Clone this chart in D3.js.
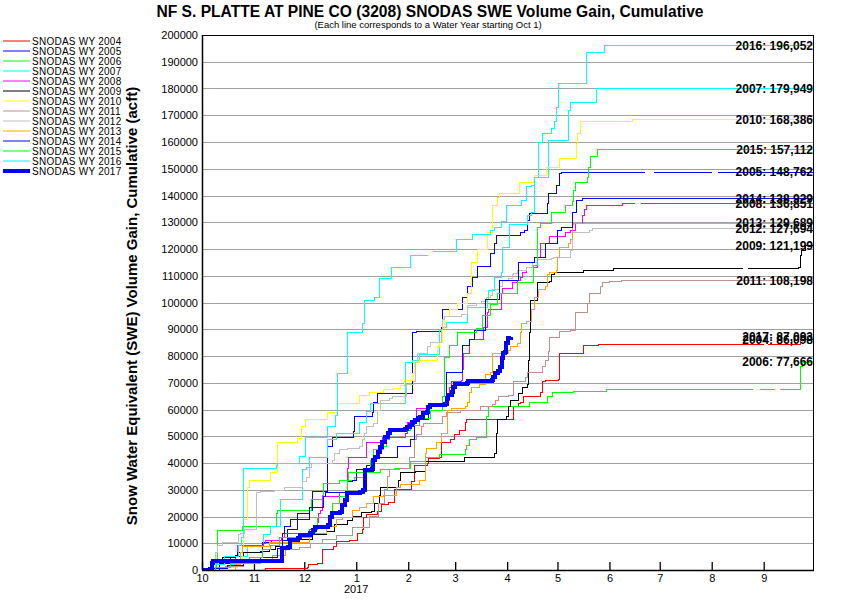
<!DOCTYPE html>
<html><head><meta charset="utf-8">
<script src="https://cdn.jsdelivr.net/npm/d3@7"></script>
<style>body{margin:0;background:#fff}svg{display:block}text{font-family:"Liberation Sans",Arial,sans-serif}</style>
</head><body><svg id="c" width="850" height="600"></svg>
<script>
// ---- data: [day of water year (0 = Oct 1), cumulative SWE volume gain (acft)]; null = missing ----
const years = [2004,2005,2006,2007,2008,2009,2010,2011,2012,2013,2014,2015,2016,2017];
const monthTicks = [0,31,61,92,123,151,182,212,243,273,304,335];
const monthLabels = ["10","11","12","1","2","3","4","5","6","7","8","9"];
const yTicks = d3.range(0, 200001, 10000);

const wy2004 = [[0,0],[38,400],[63,750],[63.4,1900],[68.6,2600],[71.6,7500],[78.7,8600],[80.5,10500],[87.7,11200],[93,13800],[96,15000],[96.6,19800],[98.4,20600],[104.4,21700],[107,24300],[111,25400],[115,30000],[125,32900],[127,39200],[134.2,40000],[134.8,41500],[141.9,41900],[143.1,47500],[148.5,48600],[150.3,50500],[153.3,52300],[156.9,55300],[158,56100],[185.5,61000],[188.5,62400],[189.7,62800],[192,64700],[202,66200],[203.3,70300],[204.6,71000],[212.9,71300],[213.5,81100],[227.8,83800],[235.6,84100],[236.2,84400],[335.2,84400],[335.3,null],[337.6,84400],[357.2,86000],[357.8,86098]];
const wy2005 = [[0,0],[7.8,1100],[10.7,2600],[16.7,4900],[24.5,6700],[35.8,10100],[41.7,11200],[50.7,15000],[56.7,21300],[64.4,22400],[66.2,29200],[75.1,46000],[78.1,49700],[90.1,51600],[91.2,57200],[101.4,58700],[102,62800],[104.4,65800],[125.8,88600],[128.2,89000],[143.1,90800],[143.7,97200],[155.1,102000],[158.6,105800],[161.6,109500],[164.6,113300],[171.8,118500],[174.7,122200],[175.9,125200],[189.7,126300],[192.6,127100],[194.4,130800],[195.6,133400],[205.8,137100],[206.4,140900],[211.7,143900],[213.5,148400],[214.7,148762],[264.2,148762],[264.3,null],[269.6,148762],[304.2,148762],[304.3,null],[307.7,148762]];
const wy2006 = [[0,0],[6.6,1000],[8.9,2600],[9.5,14950],[23.9,16100],[44.7,21300],[45.3,22400],[65.6,26200],[71.6,28000],[72.2,32500],[82.3,33600],[91.2,34400],[97.2,36600],[106.2,37400],[115.1,38100],[124.1,40400],[133,41900],[141.9,43000],[156.9,44900],[158,46700],[159.8,48600],[163.9,49700],[169.9,57200],[170.6,61000],[186.7,61300],[195.6,62800],[205.8,64700],[209.3,66200],[221.3,66900],[241.5,67300],[328.6,67300],[328.7,null],[332.8,67300],[341.7,67300],[341.8,null],[344.7,67300],[357,70300],[357.2,75900],[358.3,77666]];
const wy2007 = [[0,0],[7.8,750],[16.7,1900],[22.7,4900],[27.4,9000],[36.4,13100],[40.6,16100],[47.1,26200],[60.2,37400],[62.6,38500],[64.4,42200],[75.1,48600],[80.5,51200],[94.2,55300],[98.4,59100],[100.2,62400],[121.1,77400],[125.3,78500],[130,80400],[141.9,89700],[143.7,90800],[146.1,92700],[158.6,98300],[170,101000],[170.6,104300],[174.7,109500],[178.9,111400],[179.5,120700],[183.1,129000],[194.4,132700],[196.8,133800],[198.6,146900],[206.4,160700],[218.3,171900],[219.5,174600],[235,179949]];
const wy2008 = [[0,0],[10.7,1100],[19.7,4900],[20.9,9300],[36.4,10000],[37.6,11200],[47.7,12000],[49.5,13800],[64.4,15000],[68.6,17900],[69.2,21300],[70.4,22400],[71.6,27300],[82.3,28800],[86.5,38100],[87.1,41900],[96,42200],[98.4,47500],[107.4,49700],[121.1,51200],[122.3,55000],[128.2,60200],[136,62400],[146.7,63500],[147.9,68400],[149.1,70300],[154.5,71000],[155.1,74800],[155.7,81100],[159.8,86000],[167.6,90800],[170,96400],[170.6,97200],[178.9,103500],[179.5,105400],[184.9,107600],[187.9,108400],[189.7,109500],[191.4,111400],[193.8,112900],[199.8,117000],[201.6,122200],[207.5,124500],[216.5,126000],[219.5,127100],[222.5,129700],[227.2,132700],[228.4,134600],[229.6,136100],[250.5,136851],[258.2,136851],[258.3,null],[261.8,136851]];
const wy2009 = [[0,0],[10.7,2600],[12.5,4500],[19.7,5600],[20.9,6400],[35,6800],[40,7500],[44,8600],[52,10500],[56,11500],[66,13400],[74,14500],[79,17000],[87,18500],[90,20000],[95,21500],[101,22000],[103,25000],[105.6,28000],[106.2,31000],[117,33600],[118.1,36600],[127.6,37000],[133,40400],[155.1,40700],[156.3,42200],[174.7,43400],[175.9,51200],[176.5,56100],[181.9,57200],[182.5,61000],[183.7,63500],[188.5,65800],[191.4,68400],[194.4,69200],[195,78500],[195.6,88600],[196.2,100900],[199.8,107300],[207.5,108000],[208.7,110600],[210.5,111400],[227.8,112100],[245.3,112800],[322.6,112800],[322.7,null],[325.6,112800],[356,113000],[357.2,117700],[357.8,119600],[360,121199]];
const wy2010 = [[0,0],[12,800],[20.9,3700],[24,8600],[24.5,18700],[27.4,31000],[28.6,33600],[40.6,36300],[45.3,47500],[56.7,49300],[59.6,53500],[62,56100],[75.1,58700],[81.1,62400],[94.2,65400],[99.6,66200],[108,67300],[114,68000],[118.1,68800],[120.5,71000],[125.3,73600],[127,77400],[130,78500],[140.7,83400],[141.9,85200],[143.7,90400],[144.9,94600],[147.9,97200],[152.1,99800],[158.6,103500],[161,115100],[164.6,120000],[170,126000],[173,127100],[173.5,136400],[176,139400],[177.7,140900],[189.1,144700],[198.6,147600],[205.2,150600],[213.5,154000],[223.6,159600],[224.2,163300],[226,167800],[256.5,168386]];
const wy2011 = [[0,0],[8,700],[14,1400],[25,2500],[35,3500],[42,5500],[50,7500],[58,8500],[65,10000],[72,11500],[80,13000],[90,16000],[100,20000],[105,25000],[109,30000],[110.5,34800],[112,37400],[118,38100],[124,42200],[127,48600],[128,50500],[131,53500],[132,54600],[143.7,57200],[146,58700],[154,59800],[166,61000],[173.5,61700],[175,63500],[177,64700],[183,65400],[185.5,68400],[186,70300],[193,72100],[194,74000],[203,75900],[205,78500],[206.4,81500],[207,87100],[213,89000],[219.5,89700],[223,96100],[230,99800],[231,103200],[237.4,105800],[238.6,107300],[243,107800],[250,108198]];
const wy2012 = [[0,0],[6.6,1100],[7.8,6400],[9,9300],[12.5,10100],[21.5,13100],[22.7,13800],[25.6,15000],[31.6,15300],[32.8,28800],[34.6,29200],[43.5,29900],[49.5,30700],[58.4,31000],[60.2,32900],[62.6,34400],[64.4,38500],[65.6,40000],[78.1,41100],[79.3,43700],[82.3,44900],[86.5,45600],[94.2,46000],[96,48600],[97.2,51200],[98.4,53500],[102,54900],[104.4,59800],[106.2,63500],[112.1,64000],[113.9,64700],[121.7,69200],[126.4,70300],[127.6,77400],[128.8,81100],[134.2,83400],[136,84900],[143.1,90000],[143.7,93500],[144.9,94600],[154.5,95700],[158.6,98700],[164,99800],[166.8,100200],[169.4,102000],[171.8,102800],[173.5,105000],[177.7,105800],[179.5,108400],[182.5,109100],[184.9,110300],[185.5,111000],[187.9,112100],[193.8,112900],[197.4,114800],[199.8,115900],[208.7,116300],[209.9,117000],[219.5,119600],[220.7,126300],[231.4,127100],[232.6,127694]];
const wy2013 = [[0,0],[20,2000],[22.7,6700],[24,8600],[40,10100],[64.4,12000],[65.6,13800],[74.5,16100],[80.5,18700],[84,19800],[90,22100],[94.2,23500],[98.4,25000],[102,27300],[108,28000],[116,31000],[118.1,31800],[130,33600],[133,43700],[134,45500],[140.1,47800],[143.1,51200],[146.7,59800],[149,60500],[157,61300],[158.6,62500],[159.8,66200],[161,68400],[165.8,69200],[168.8,72900],[171.8,74000],[173.5,81100],[182.5,81900],[183.7,83400],[187.9,84500],[189.7,88600],[190.8,92300],[193.8,93000],[196.8,97200],[198.6,101700],[200.4,104700],[204.6,105800],[205.8,110300],[207.5,111400],[211.7,112000],[212.3,117000],[213.5,120700],[218.3,122200],[219.5,123400],[220.7,129000],[221.3,129689]];
const wy2014 = [[0,0],[5,500],[15,1500],[25,3000],[35,4500],[45,8000],[48.3,13800],[49.5,16100],[52.5,18700],[64.4,23200],[72.2,27300],[73.4,28800],[86.5,32900],[90,33600],[92.4,37400],[98.4,39200],[102,42200],[116.3,46000],[124.1,48600],[127,56100],[134.8,61700],[144.9,62800],[146.1,74000],[155.1,84100],[159.8,86000],[162.8,89700],[168.8,101000],[177.7,108400],[188.5,115100],[198.6,117000],[204.6,122200],[212.3,127100],[214.7,128200],[220.7,133800],[223.6,138300],[227.2,138929]];
const wy2015 = [[0,0],[7.8,1100],[16.7,2600],[28.6,4500],[35.8,7500],[40.6,9300],[46.5,12000],[51.3,12300],[64.4,14200],[67.4,16100],[68.6,19800],[78.1,25000],[82.3,27300],[86.5,33600],[87.1,36300],[100.2,41100],[102,44900],[108,46000],[110.3,48600],[112.1,51600],[118.1,52300],[124.1,54200],[130,56800],[136,59800],[143.7,64700],[144.9,79600],[147.9,84100],[152.1,88600],[164,90100],[167,95300],[171.8,99100],[176,103500],[187.9,107300],[198,114000],[199.8,128200],[201.6,129700],[208.7,133800],[216.5,136400],[220.7,137600],[221.3,142000],[222.5,144700],[230.2,146900],[230.8,150600],[232,154400],[235.6,157112]];
const wy2016 = [[0,0],[4.8,1900],[13.7,4900],[21.5,9300],[23.3,12000],[24.5,38100],[44.7,38900],[45.3,40000],[58.4,42600],[62,49700],[75.1,53500],[79.9,57900],[81.1,73600],[86.5,88600],[96,92300],[97.2,100900],[102.6,101700],[105.6,109100],[113.3,112900],[124.1,117700],[134.8,117700],[134.9,null],[137.8,118900],[151.5,123400],[161.6,125600],[171.8,127100],[174.7,128200],[178.9,130100],[181.9,136400],[190.8,138300],[193.8,143200],[196.8,143900],[198.6,146900],[200.4,160000],[202.8,163000],[208.7,165200],[210.5,167800],[211.7,173000],[212.9,182000],[229.6,193300],[240.3,196052]];
const wy2017 = [[0,0],[5,400],[6,2600],[6.6,3400],[46.5,3400],[47.7,8200],[51.3,8500],[52.5,11200],[57.2,12000],[58.4,13100],[64.4,13800],[66.2,15000],[67.4,16100],[75.1,16800],[76.3,19800],[77.5,21300],[82.3,21700],[83.5,24300],[85.3,26200],[86.5,28800],[94.2,29000],[96,29900],[97.2,37400],[101.4,37800],[102,41100],[103.2,42200],[105,44100],[106.2,46000],[107.4,47800],[109.1,49700],[110.9,51200],[112.1,52300],[121.1,52700],[122.3,53500],[124.1,54200],[125.3,55300],[127,56100],[128.8,56800],[130,57200],[131.8,58700],[134.2,59100],[134.8,61000],[136,61700],[144.9,62100],[146.1,64300],[146.7,65400],[149.1,66500],[149.7,68400],[150.9,69500],[158,69900],[158.6,70700],[172.9,71000],[173.5,72100],[174.7,73600],[176.5,74400],[177.7,75900],[178.9,79300],[179.5,81100],[180.7,81500],[181.3,84900],[182.5,86700],[184.3,87093]];

const series = [wy2004,wy2005,wy2006,wy2007,wy2008,wy2009,wy2010,wy2011,wy2012,wy2013,wy2014,wy2015,wy2016,wy2017];

// ---- styles ----
const lineColors = ["#ff0000","#0000ff","#00ff00","#00ffff","#ff00ff","#000000","#ffff00","#c09090","#c0c0c0","#ffa500","#0000ff","#00ff00","#00ffff","#0000ff"];
const lineWidths = [1,1,1,1,1,1,1,1,1,1,1,1,1,4];
const currentYear = 2017;

const svg = d3.select("#c");
const W = 850, H = 600;
const m = {l:202, r:814, t:35, b:570};
const x = d3.scaleLinear().domain([0,365]).range([m.l, m.r]);
const y = d3.scaleLinear().domain([0,200000]).range([m.b, m.t]);

svg.append("rect").attr("width",W).attr("height",H).attr("fill","#fff");

// title
svg.append("text").attr("x",430).attr("y",17).attr("text-anchor","middle")
  .attr("font-size",15.6).attr("font-weight","bold")
  .text("NF S. PLATTE AT PINE CO (3208) SNODAS SWE Volume Gain, Cumulative");
svg.append("text").attr("x",428).attr("y",28).attr("text-anchor","middle")
  .attr("font-size",9.5)
  .text("(Each line corresponds to a Water Year starting Oct 1)");

// y axis title
svg.append("text").attr("transform","translate(137,306) rotate(-90)")
  .attr("text-anchor","middle").attr("font-size",15).attr("font-weight","bold")
  .text("Snow Water Equivalent (SWE) Volume Gain, Cumulative (acft)");

// gridlines
svg.append("g").selectAll("line").data(yTicks).join("line")
  .attr("x1",m.l).attr("x2",m.r).attr("y1",d=>Math.round(y(d))+0.5).attr("y2",d=>Math.round(y(d))+0.5)
  .attr("stroke","#a0a0a0").attr("stroke-width",1);

// y axis labels
const yAxis = svg.append("g").attr("transform",`translate(${m.l},0)`)
  .call(d3.axisLeft(y).tickValues(yTicks).tickSize(0).tickPadding(4).tickFormat(d3.format("d")));
yAxis.select(".domain").remove();
yAxis.selectAll("text").attr("font-size",11).attr("fill","#000").style("font-family",'"Liberation Sans",Arial,sans-serif');

// x axis
const xAxis = svg.append("g").attr("transform",`translate(0,${m.b})`)
  .call(d3.axisBottom(x).tickValues(monthTicks).tickSizeInner(-8).tickSizeOuter(0).tickPadding(4)
    .tickFormat((d,i)=>monthLabels[i]));
xAxis.select(".domain").remove();
xAxis.selectAll("line").attr("stroke","#000").attr("stroke-width",1.3);
xAxis.selectAll("text").attr("font-size",11).attr("fill","#000").style("font-family",'"Liberation Sans",Arial,sans-serif');
svg.append("text").attr("x",x(92)).attr("y",593).attr("text-anchor","middle").attr("font-size",11).text("2017");

// clip
svg.append("clipPath").attr("id","plotclip").append("rect")
  .attr("x",m.l).attr("y",m.t).attr("width",m.r-m.l).attr("height",m.b-m.t);

const line = d3.line().defined(d=>d[1]!==null).x(d=>x(d[0])).y(d=>y(d[1])).curve(d3.curveStepAfter);

const plot = svg.append("g").attr("clip-path","url(#plotclip)");
series.forEach((s,i)=>{
  let pts = s.slice();
  const last = pts[pts.length-1];
  if (years[i] !== currentYear && last[0] < 365) pts.push([365, last[1]]);
  plot.append("path").attr("d",line(pts)).attr("fill","none")
    .attr("stroke",lineColors[i]).attr("stroke-width",lineWidths[i])
    .attr("shape-rendering","crispEdges");
});

// frame
svg.append("rect").attr("x",m.l+0.5).attr("y",m.t+0.5).attr("width",m.r-m.l-1).attr("height",m.b-m.t)
  .attr("fill","none").attr("stroke","#000").attr("stroke-width",1);
svg.append("line").attr("x1",m.l).attr("x2",m.r).attr("y1",m.b+0.5).attr("y2",m.b+0.5).attr("stroke","#000").attr("stroke-width",1.5);
svg.append("line").attr("x1",m.l+0.5).attr("x2",m.l+0.5).attr("y1",m.t).attr("y2",m.b).attr("stroke","#000").attr("stroke-width",1.5);

// end labels
const fmt = d3.format(",");
series.forEach((s,i)=>{
  const v = s[s.length-1][1];
  svg.append("text").attr("x",m.r-1).attr("y",y(v)).attr("dy","0.35em")
    .attr("text-anchor","end").attr("font-size",12).attr("font-weight","bold")
    .text(`${years[i]}: ${fmt(v)}`);
});

// legend
const lg = svg.append("g");
years.forEach((yr,i)=>{
  const yy = 41 + i*10;
  lg.append("line").attr("x1",3).attr("x2",30).attr("y1",yy).attr("y2",yy)
    .attr("stroke",lineColors[i]).attr("stroke-width",lineWidths[i]);
  lg.append("text").attr("x",32).attr("y",yy).attr("dy","0.36em").attr("font-size",10)
    .attr("letter-spacing",0.25).text(`SNODAS WY ${yr}`);
});
</script></body></html>
